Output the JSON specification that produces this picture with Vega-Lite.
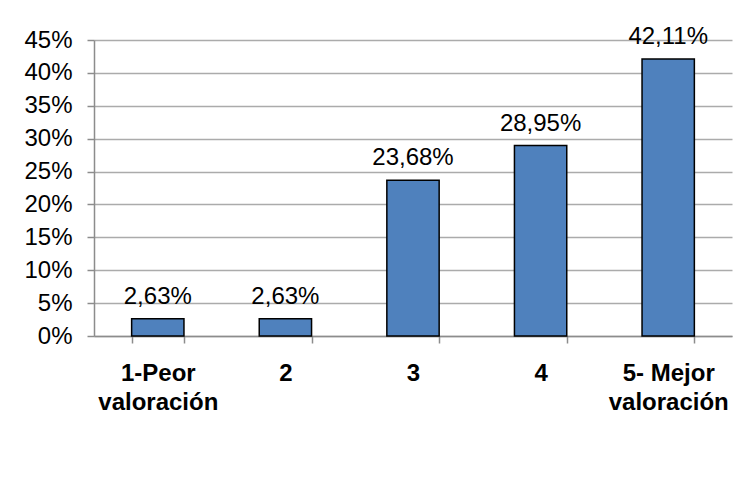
{
  "$schema": "https://vega.github.io/schema/vega-lite/v6.json",
  "width": 638,
  "height": 296,
  "autosize": "none",
  "padding": {"left": 94, "top": 40, "right": 18, "bottom": 141},
  "background": "white",
  "config": {
    "view": {"stroke": null},
    "font": "Liberation Sans",
    "locale": {"number": {"decimal": ",", "thousands": ".", "grouping": [3], "currency": ["", " €"]}}
  },
  "data": {
    "values": [
      {"cat": "1-Peor valoración", "pct": 0.0263},
      {"cat": "2", "pct": 0.0263},
      {"cat": "3", "pct": 0.2368},
      {"cat": "4", "pct": 0.2895},
      {"cat": "5- Mejor valoración", "pct": 0.4211}
    ]
  },
  "encoding": {
    "x": {
      "field": "cat",
      "type": "nominal",
      "sort": null,
      "scale": {"paddingInner": 0.59, "paddingOuter": 0.295},
      "axis": {
        "title": null,
        "labelAngle": 0,
        "tickBand": "extent",
        "tickSize": 7,
        "tickColor": "#8c8c8c",
        "tickWidth": 1.5,
        "domainColor": "#8c8c8c",
        "domainWidth": 1.5,
        "labelFontSize": 24,
        "labelFontWeight": "bold",
        "labelColor": "black",
        "labelPadding": 18,
        "labelLineHeight": 29,
        "labelBaseline": "top",
        "labelExpr": "indexof(datum.label, ' valoración') > 0 ? [substring(datum.label, 0, indexof(datum.label, ' valoración')), 'valoración'] : datum.label"
      }
    },
    "y": {
      "field": "pct",
      "type": "quantitative",
      "scale": {"domain": [0, 0.45], "nice": false},
      "axis": {
        "title": null,
        "format": ".0%",
        "values": [0, 0.05, 0.1, 0.15, 0.2, 0.25, 0.3, 0.35, 0.4, 0.45],
        "tickSize": 7,
        "tickColor": "#8c8c8c",
        "tickWidth": 1.5,
        "domainColor": "#8c8c8c",
        "domainWidth": 1.5,
        "gridColor": "#ababab",
        "gridWidth": 1.5,
        "labelFontSize": 24,
        "labelColor": "black",
        "labelPadding": 15
      }
    }
  },
  "layer": [
    {"mark": {"type": "bar", "fill": "#4F81BD", "stroke": "black", "strokeWidth": 1.5}},
    {
      "mark": {"type": "text", "baseline": "alphabetic", "dy": -15, "fontSize": 24, "color": "black"},
      "encoding": {"text": {"field": "pct", "type": "quantitative", "format": ".2%"}}
    }
  ]
}
